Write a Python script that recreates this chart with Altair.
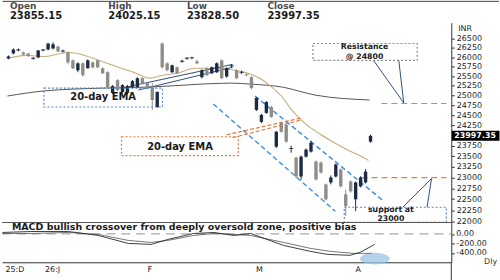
import altair as alt
import pandas as pd

FONT = "DejaVu Sans"

# ---------------- data ----------------
opens = [25964, 26095, 26180, 26122, 26095, 25960, 25990, 26180, 26200, 26227,
         26280, 26150, 26122, 25912, 25653, 25834, 25704, 25860, 25912, 25704,
         25601, 25065, 25396, 25090, 25065, 25217, 25217, 25447, 25319, 25192,
         24712, 26359, 25834, 25601, 25730, 25880, 25960, 25975, 25886, 25472,
         25704, 25575, 25601, 25912, 25490, 25760, 25653, 25590, 25540, 25472,
         24638, 24341, 24563, 24712, 23734, 24316, 24267, 23680, 23471, 23024,
         23495, 23614, 23377, 23353, 22839, 22885, 23024, 23188, 22610, 22908,
         22496, 22793, 22885, 23855.15]
highs = [26043, 26227, 26227, 26148, 26110, 26000, 26190, 26215, 26380, 26390,
         26300, 26200, 26148, 25938, 25860, 25860, 25940, 25880, 25930, 25730,
         25630, 25270, 25420, 25290, 25270, 25400, 25470, 25470, 25340, 25319,
         25110, 26390, 25860, 25800, 25750, 25930, 26000, 26010, 25930, 25680,
         25730, 25750, 25860, 25940, 25730, 25800, 25680, 25640, 25580, 25500,
         24964, 24540, 24860, 24740, 24120, 24340, 24290, 23760, 23495, 23520,
         23690, 23880, 23400, 23380, 22860, 23050, 23330, 23210, 22720, 22930,
         22908, 23030, 23200, 24025.15]
lows = [25938, 26069, 26150, 26040, 26000, 25930, 25970, 26150, 26180, 26200,
        26130, 26120, 25808, 25680, 25600, 25480, 25700, 25700, 25700, 25550,
        25190, 25040, 25110, 25060, 25030, 25190, 25190, 25290, 25160, 24638,
        24690, 25700, 25630, 25580, 25550, 25850, 25930, 25940, 25810, 25440,
        25500, 25550, 25580, 25420, 25460, 25720, 25420, 25550, 25500, 25160,
        24610, 24310, 24540, 24440, 23700, 24070, 23830, 23590, 22980, 22950,
        23470, 23590, 22930, 23090, 22470, 22840, 23000, 22770, 22113, 22650,
        22225, 22770, 22860, 23828.5]
closes = [26016, 26200, 26190, 26069, 26030, 25970, 26174, 26190, 26359, 26340,
          26148, 26160, 25860, 25704, 25834, 25524, 25912, 25730, 25730, 25575,
          25217, 25243, 25141, 25268, 25243, 25370, 25447, 25319, 25192, 24888,
          25090, 25730, 25653, 25782, 25575, 25890, 25970, 25980, 25834, 25653,
          25524, 25730, 25834, 25447, 25704, 25770, 25447, 25600, 25530, 25192,
          24938, 24514, 24838, 24464, 24096, 24096, 23854, 23690, 23024, 23495,
          23662, 23830, 22954, 23118, 22496, 23001, 23306, 22793, 22340, 22678,
          22885, 23001, 23141, 23997.35]

# 20-day EMA (tan) and long EMA (dark), read at candle-index positions
ema_x = [-0.2, 3.6, 7.5, 10.5, 12.4, 15.4, 19.3, 22.2, 25.2, 28.5, 31.1, 34.0, 37.5,
         41.8, 45.8, 48.3, 51.0, 52.6, 55.2, 57.1, 59.9, 62.4, 65.0, 68.3, 70.8, 72.6]
ema_v = [25964, 26043, 26016, 26095, 26122, 26043, 25860, 25730, 25601, 25447, 25524,
         25575, 25704, 25704, 25653, 25575, 25421, 25268, 24964, 24638, 24291, 24072,
         23878, 23662, 23519, 23401]
long_x = [-0.2, 7.0, 19.3, 28.5, 38.9, 44.8, 48.7, 55.2, 61.8, 72.8]
long_v = [24989, 25116, 25192, 25217, 25294, 25319, 25294, 25217, 25014, 24888]

# MACD panel
macd_x = [-0.2, 5.6, 12.8, 18.7, 24.6, 29.1, 32.4, 37.5, 41.5, 45.4, 48.7, 55.2,
          60.5, 63.8, 68.3, 70.3, 73.2]
macd_v = [31, 51, 51, -31, -195, -215, -113, 10, 31, -31, 10, -236, -359, -420,
          -441, -379, -215]
sig_x = [-0.2, 5.6, 12.8, 18.7, 24.6, 29.1, 32.4, 37.5, 41.5, 45.4, 48.7, 55.2,
         60.5, 64.4, 68.9, 72.6]
sig_v = [10, 10, 31, -10, -133, -174, -133, -31, 10, -10, -31, -174, -297, -359,
         -400, -400]

price_ticks = [22000, 22250, 22500, 22750, 23000, 23250, 23500, 23750, 24250, 24500,
               24750, 25000, 25250, 25500, 25750, 26000, 26250, 26500]
macd_ticks = [0, -200, -400]
macd_tick_labels = ["0.00", "-200.00", "-400.00"]
month_pos = [0.3, 8.1, 28.3, 49.7, 69.3]
month_lab = ["25:D", "26:J", "F", "M", "A"]

header_lab = ["Open", "High", "Low", "Close"]
header_val = ["23855.15", "24025.15", "23828.50", "23997.35"]
last_close = 23997.35
resistance = 24800
support = 23000

# annotation geometry in data coordinates (candle index, price)
channel_seg = {"x": [49.7, 41.3], "x2": [75.7, 65.9], "y": [24989, 24788], "y2": [22451, 22225]}
navy_seg = {"x": [73.6, 78.7, 79.5, 84.4, 22.8, 26.2],
            "x2": [79.7, 79.7, 85.3, 85.3, 45.2, 45.2],
            "y": [25912, 25912, 22315, 22315, 25192, 25141],
            "y2": [24813, 24813, 22977, 22977, 25808, 25730]}
orange_seg = {"x": [44.0, 45.2], "x2": [59.1, 59.1], "y": [24023, 23951], "y2": [24439, 24390]}
boxes = {"x": [7.15, 22.8, 61.4, 67.7], "x2": [31.06, 46.35, 82.4, 88.28],
         "y": [25192, 23975, 26360, 22315], "y2": [24712, 23519, 25912, 21975],
         "c": ["#5b86c0", "#e0783a", "#8a8a8a", "#5b86c0"]}
ema_text = {"x": [19.1, 34.6], "y": [24951, 23734], "t": ["20-day EMA", "20-day EMA"]}
small_text = {"x": [71.8, 71.8, 77.1, 77.1],
              "y": [26262, 26008, 22252, 22040],
              "t": ["Resistance", "@ 24800", "support at", "23000"]}

# ---------------- scales & axes ----------------
XDOM = [-0.294, 88.28]
xs = alt.Scale(domain=XDOM, nice=False, zero=False)
ys = alt.Scale(type="log", domain=[21971, 26924], nice=False, zero=False)
ms = alt.Scale(domain=[-584, 236], nice=False, zero=False)

yaxis = alt.Axis(orient="right", values=price_ticks, format="d", title=None, grid=False,
                 tickSize=3, tickColor="#333", domainColor="#333", labelColor="#222",
                 labelFontSize=8, labelPadding=2, labelOverlap=False, labelFlush=False,
                 labelFont=FONT)
xaxis = alt.Axis(values=month_pos,
                 labelExpr="[" + ",".join(f"'{s}'" for s in month_lab) + "][indexof(["
                           + ",".join(str(p) for p in month_pos) + "], datum.value)]",
                 ticks=False, domain=True, domainColor="#333", grid=False, title=None,
                 labelAlign="left", labelFontSize=8, labelPadding=3, labelColor="#222",
                 labelFlush=False, labelOverlap=False, labelFont=FONT)
maxis = alt.Axis(orient="right", values=macd_ticks, labels=False, title=None, grid=False,
                 tickSize=3, tickColor="#333", domainColor="#333")


def X(f):
    return alt.X(f, type="quantitative", scale=xs, axis=None, title=None)


def Y(f):
    return alt.Y(f, type="quantitative", scale=ys, axis=yaxis, title=None)


def MX(f):
    return alt.X(f, type="quantitative", scale=xs, axis=xaxis, title=None)


def MY(f):
    return alt.Y(f, type="quantitative", scale=ms, axis=maxis, title=None)


candles = pd.DataFrame({"i": list(range(len(opens))), "open": opens, "high": highs,
                        "low": lows, "close": closes})
candles["dir"] = ["up" if c >= o else "down" for o, c in zip(opens, closes)]
col = alt.Color("dir:N", scale=alt.Scale(domain=["up", "down"], range=["#1d2a44", "#8e8e86"]),
                legend=None)

wick = alt.Chart(candles).mark_rule(strokeWidth=1).encode(
    x=X("i"), y=Y("low"), y2="high:Q", color=col)
body = alt.Chart(candles).mark_bar(size=3.4).encode(
    x=X("i"), y=Y("open"), y2="close:Q", color=col)
doji = alt.Chart(candles).transform_filter("abs(datum.close - datum.open) < 40").mark_tick(
    orient="horizontal", size=4.5, thickness=1).encode(x=X("i"), y=Y("close"), color=col)

ema = alt.Chart(pd.DataFrame({"x": ema_x, "v": ema_v})).mark_line(
    color="#c6ad78", strokeWidth=1.1, interpolate="monotone").encode(x=X("x"), y=Y("v"))
longl = alt.Chart(pd.DataFrame({"x": long_x, "v": long_v})).mark_line(
    color="#555555", strokeWidth=1, interpolate="monotone").encode(x=X("x"), y=Y("v"))

chan = alt.Chart(pd.DataFrame(channel_seg)).mark_rule(
    color="#3d8fe0", strokeWidth=1.5, strokeDash=[5, 3]).encode(
    x=X("x"), x2="x2:Q", y=Y("y"), y2="y2:Q")
navy = alt.Chart(pd.DataFrame(navy_seg)).mark_rule(color="#2e4f7d", strokeWidth=1).encode(
    x=X("x"), x2="x2:Q", y=Y("y"), y2="y2:Q")
orng = alt.Chart(pd.DataFrame(orange_seg)).mark_rule(
    color="#e8702a", strokeWidth=1.2, strokeDash=[4, 2]).encode(
    x=X("x"), x2="x2:Q", y=Y("y"), y2="y2:Q")

res_line = alt.Chart(pd.DataFrame({"x": [75.2], "x2": [XDOM[1]], "v": [resistance]})).mark_rule(
    color="#6fa0d8", strokeWidth=1.2, strokeDash=[6, 4]).encode(x=X("x"), x2="x2:Q", y=Y("v"))
sup_line = alt.Chart(pd.DataFrame({"x": [71.2], "x2": [XDOM[1]], "v": [support]})).mark_rule(
    color="#e8803a", strokeWidth=1.2, strokeDash=[6, 4]).encode(x=X("x"), x2="x2:Q", y=Y("v"))

box = alt.Chart(pd.DataFrame(boxes)).mark_rect(
    fillOpacity=0, strokeWidth=1.2, strokeDash=[2, 2]).encode(
    x=X("x"), x2="x2:Q", y=Y("y"), y2="y2:Q", stroke=alt.Stroke("c:N", scale=None))
etext = alt.Chart(pd.DataFrame(ema_text)).mark_text(
    fontSize=10, fontWeight="bold", color="#1a1a1a", font=FONT).encode(
    x=X("x"), y=Y("y"), text="t:N")
stext = alt.Chart(pd.DataFrame(small_text)).mark_text(
    fontSize=7.8, fontWeight="bold", color="#1a1a1a", font=FONT).encode(
    x=X("x"), y=Y("y"), text="t:N")

# current price marker on the right axis
cp = pd.DataFrame({"v": [last_close], "t": [f"{last_close:.2f}"]})
cp_box = alt.Chart(cp).mark_point(
    shape="M -1 -0.21 L 1 -0.21 L 1 0.21 L -1 0.21 Z", size=2304, filled=True,
    color="black", opacity=1).encode(x=alt.value(476.5), y=Y("v"))
cp_txt = alt.Chart(cp).mark_text(align="left", fontSize=8, fontWeight="bold", color="white",
                                 font=FONT).encode(x=alt.value(455), y=Y("v"), text="t:N")
unit = alt.Chart(pd.DataFrame({"t": ["INR"]})).mark_text(
    align="left", fontSize=8, color="#222", font=FONT).encode(
    x=alt.value(459), y=alt.value(6), text="t:N")

# header
hdr = pd.DataFrame({"lab": header_lab, "val": header_val, "px": [8, 107, 186, 267]})
hdr_lab = alt.Chart(hdr).mark_text(align="left", baseline="middle", fontSize=9,
                                   fontWeight="bold", color="#4a4a4a", font=FONT).encode(
    x=alt.X("px:Q", scale=None), y=alt.value(-17), text="lab:N")
hdr_val = alt.Chart(hdr).mark_text(align="left", baseline="middle", fontSize=10,
                                   fontWeight="bold", color="#1a1a1a", font=FONT).encode(
    x=alt.X("px:Q", scale=None), y=alt.value(-7), text="val:N")
top_line = alt.Chart(pd.DataFrame({"a": [0]})).mark_rule(color="#444", strokeWidth=1).encode(
    x=alt.value(0.5), x2=alt.value(500), y=alt.value(-21.5))

main = alt.layer(
    longl, ema, chan, orng, navy, res_line, sup_line, wick, body, doji, box, etext, stext,
    cp_box, cp_txt, unit, hdr_lab, hdr_val, top_line
).properties(width=452, height=201)

# ---------------- MACD panel ----------------
ell = alt.Chart(pd.DataFrame({"x": [73.2], "v": [-508]})).mark_point(
    shape="M -1 0 A 1 0.4 0 1 0 1 0 A 1 0.4 0 1 0 -1 0 Z", size=900, filled=True,
    color="#9cc3e6", opacity=0.75).encode(x=MX("x"), y=MY("v"))
zero = alt.Chart(pd.DataFrame({"v": [0]})).mark_rule(
    color="#9fb09f", strokeWidth=1.2, strokeDash=[9, 6]).encode(
    x=alt.value(0), x2=alt.value(452), y=MY("v"))
sig = alt.Chart(pd.DataFrame({"x": sig_x, "v": sig_v})).mark_line(
    color="#666666", strokeWidth=0.9).encode(x=MX("x"), y=MY("v"))
macd = alt.Chart(pd.DataFrame({"x": macd_x, "v": macd_v})).mark_line(
    color="#2a2a2a", strokeWidth=0.9).encode(x=MX("x"), y=MY("v"))
mtop = alt.Chart(pd.DataFrame({"a": [0]})).mark_rule(color="#555", strokeWidth=1).encode(
    x=alt.value(0), x2=alt.value(452), y=alt.value(0))
mtext = alt.Chart(pd.DataFrame({"t": ["MACD bullish crossover from deeply oversold zone, positive bias"]})
                  ).mark_text(align="left", baseline="middle", fontSize=9.5, fontWeight="bold",
                              color="#1a1a1a", font=FONT).encode(
    x=alt.value(10), y=alt.value(4.5), text="t:N")
dly = alt.Chart(pd.DataFrame({"t": ["Dly"]})).mark_text(
    align="left", baseline="middle", fontSize=8, color="#333", font=FONT).encode(
    x=alt.value(485), y=alt.value(40), text="t:N")
vline = alt.Chart(pd.DataFrame({"a": [0]})).mark_rule(color="#333", strokeWidth=1).encode(
    x=alt.value(452), y=alt.value(40), y2=alt.value(60))
mlab = alt.Chart(pd.DataFrame({"v": macd_ticks, "t": macd_tick_labels})).mark_text(
    align="left", baseline="middle", fontSize=8, color="#222", font=FONT).encode(
    x=alt.value(457), y=MY("v"), text="t:N")

macd_panel = alt.layer(ell, zero, sig, macd, mtop, mtext, dly, vline, mlab).properties(
    width=452, height=40)

chart = alt.vconcat(main, macd_panel, spacing=0, bounds="flush").properties(
    padding={"left": 0, "top": 0, "right": 0, "bottom": 0}, background="white"
).configure(font=FONT).configure_view(stroke=None)

chart.save("out.html", embed_options={"renderer": "svg", "actions": False})
